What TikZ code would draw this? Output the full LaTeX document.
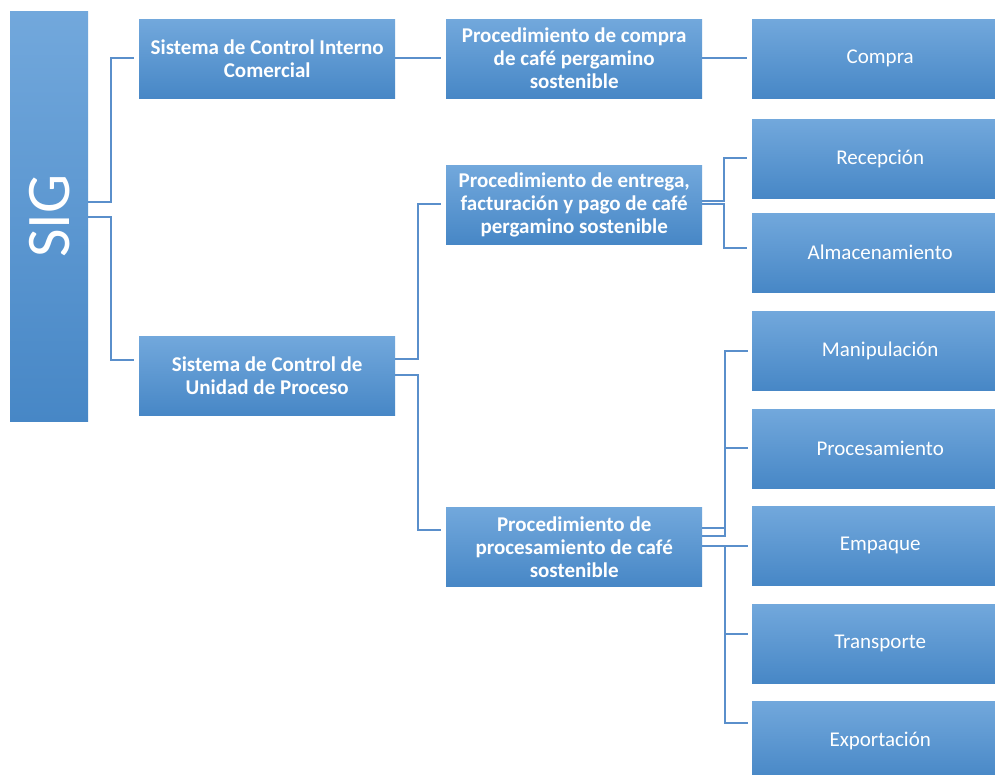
\documentclass[tikz,border=0pt]{standalone}
\usepackage{fontspec}
\setmainfont{Carlito}
\usetikzlibrary{calc}
\definecolor{boxtop}{HTML}{72A8DC}
\definecolor{boxmid}{HTML}{5799D7}
\definecolor{boxbot}{HTML}{4787C6}
\definecolor{linecol}{HTML}{5A8FCB}
\tikzset{
  boxbase/.style={rectangle, anchor=north west, inner sep=0pt,
    minimum width=256pt, minimum height=79pt,
    top color=boxtop, middle color=boxmid, bottom color=boxbot,
    text=white, align=center},
  boldbox/.style={boxbase, font=\fontsize{21}{23}\selectfont\bfseries},
  leafbox/.style={boxbase, font=\fontsize{21}{23}\selectfont},
  sigbox/.style={rectangle, anchor=north west, inner sep=0pt,
    minimum width=78pt, minimum height=410pt,
    top color=boxtop, middle color=boxmid, bottom color=boxbot,
    text=white, font=\fontsize{62}{70}\selectfont},
  conn/.style={draw=linecol, line width=1.6pt}
}
\begin{document}
\begin{tikzpicture}[x=1pt,y=-1pt]
\clip (0,0) rectangle (995,774);
\fill[white] (0,0) rectangle (995,774);

\node[sigbox] (sig) at (10,11) {\rotatebox{90}{SIG}};

\node[boldbox] (scic) at (139,19) {Sistema de Control Interno\\Comercial};
\node[boldbox] (scup) at (139,336) {Sistema de Control de\\Unidad de Proceso};

\node[boldbox] (pc) at (446,19) {Procedimiento de compra\\de café pergamino\\sostenible};
\node[boldbox] (pe) at (446,165) {Procedimiento de entrega,\\facturación y pago de café\\pergamino sostenible};
\node[boldbox] (pp) at (446,507) {Procedimiento de\\procesamiento de café\\sostenible};

\node[leafbox] (compra) at (752,19) {Compra};
\node[leafbox] (recep) at (752,119) {Recepción};
\node[leafbox] (almac) at (752,213) {Almacenamiento};
\node[leafbox] (manip) at (752,311) {Manipulación};
\node[leafbox] (proces) at (752,409) {Procesamiento};
\node[leafbox] (empaq) at (752,506) {Empaque};
\node[leafbox] (transp) at (752,604) {Transporte};
\node[leafbox] (export) at (752,701) {Exportación};

% SIG connectors
\draw[conn] (sig.east |- 0,202) -| (111,58) -- ($(scic.west |- 0,58)+(-5,0)$);
\draw[conn] (sig.east |- 0,217) -| (111,360) -- ($(scup.west |- 0,360)+(-5,0)$);

% level 2 -> level 3
\draw[conn] (scic.east |- 0,58) -- ($(pc.west |- 0,58)+(-5,0)$);
\draw[conn] (scup.east |- 0,359) -| (418,204) -- ($(pe.west |- 0,204)+(-5,0)$);
\draw[conn] (scup.east |- 0,375) -| (418,530) -- ($(pp.west |- 0,530)+(-5,0)$);

% level 3 -> level 4
\draw[conn] (pc.east |- 0,58) -- ($(compra.west |- 0,58)+(-5,0)$);
\draw[conn] (pe.east |- 0,201) -| (724,158) -- ($(recep.west |- 0,158)+(-5,0)$);
\draw[conn] (pe.east |- 0,204) -| (724,248) -- ($(almac.west |- 0,248)+(-5,0)$);
\draw[conn] (pp.east |- 0,528) -| (725,351) -- ($(manip.west |- 0,351)+(-4,0)$);
\draw[conn] (pp.east |- 0,536) -| (725,448) -- ($(proces.west |- 0,448)+(-4,0)$);
\draw[conn] (pp.east |- 0,546) -- ($(empaq.west |- 0,546)+(-4,0)$);
\draw[conn] (pp.east |- 0,546) -| (725,634) -- ($(transp.west |- 0,634)+(-4,0)$);
\draw[conn] (pp.east |- 0,546) -| (725,723) -- ($(export.west |- 0,723)+(-4,0)$);
\end{tikzpicture}
\end{document}
